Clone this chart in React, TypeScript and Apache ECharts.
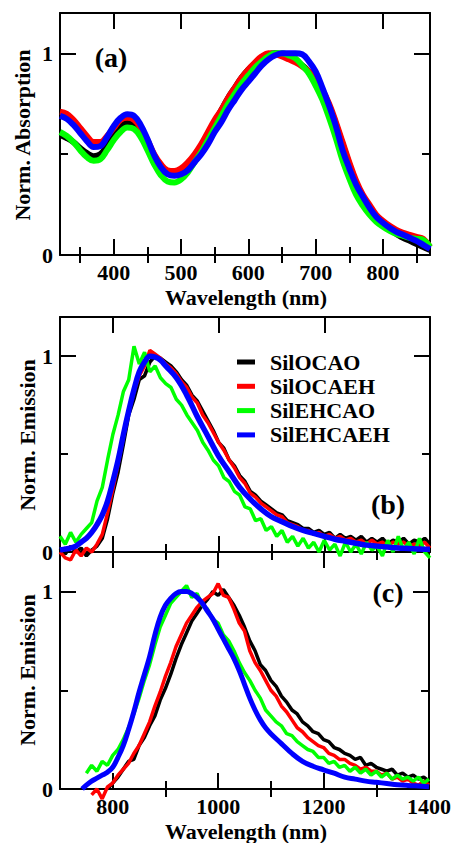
import React, { useEffect, useRef } from "react";
import * as echarts from "echarts";

const seriesNames = ["SilOCAO", "SilOCAEH", "SilEHCAO", "SilEHCAEH"];
const seriesColors = ["#000000", "#ff0000", "#00ff00", "#0000ff"];

// ---- Panel (a): absorption ----
const absWl = [320, 330, 340, 350, 360, 370, 380, 390, 400, 410, 420, 430, 440, 450, 460, 470, 480, 490, 500, 510, 520, 530, 540, 550, 560, 570, 580, 590, 600, 610, 620, 630, 640, 650, 660, 670, 680, 690, 700, 710, 720, 730, 740, 750, 760, 770, 780, 790, 800, 810, 820, 830, 840, 850, 860, 870];
const absBlack = [0.595, 0.58, 0.56, 0.53, 0.505, 0.49, 0.5, 0.54, 0.59, 0.635, 0.657, 0.65, 0.61, 0.55, 0.48, 0.43, 0.405, 0.4, 0.41, 0.44, 0.49, 0.54, 0.6, 0.66, 0.72, 0.78, 0.83, 0.88, 0.92, 0.95, 0.98, 0.995, 1.0, 0.99, 0.975, 0.96, 0.94, 0.91, 0.87, 0.81, 0.74, 0.65, 0.55, 0.45, 0.36, 0.29, 0.23, 0.18, 0.15, 0.125, 0.105, 0.085, 0.07, 0.055, 0.04, 0.025];
const absRed = [0.71, 0.7, 0.67, 0.63, 0.59, 0.56, 0.56, 0.59, 0.63, 0.67, 0.68, 0.67, 0.63, 0.57, 0.5, 0.45, 0.42, 0.417, 0.43, 0.46, 0.5, 0.55, 0.61, 0.67, 0.72, 0.78, 0.83, 0.88, 0.92, 0.955, 0.985, 1.0, 0.995, 0.985, 0.97, 0.955, 0.935, 0.91, 0.87, 0.82, 0.75, 0.66, 0.56, 0.46, 0.37, 0.3, 0.25, 0.2, 0.17, 0.145, 0.125, 0.11, 0.1, 0.09, 0.08, 0.04];
const absGreen = [0.61, 0.59, 0.56, 0.52, 0.485, 0.467, 0.475, 0.52, 0.57, 0.61, 0.632, 0.625, 0.585, 0.52, 0.45, 0.395, 0.365, 0.36, 0.375, 0.41, 0.46, 0.51, 0.57, 0.63, 0.69, 0.75, 0.8, 0.85, 0.89, 0.93, 0.96, 0.985, 1.0, 1.0, 0.99, 0.975, 0.94, 0.9, 0.84, 0.77, 0.68, 0.58, 0.47, 0.38, 0.3, 0.245, 0.2, 0.165, 0.14, 0.12, 0.105, 0.095, 0.085, 0.08, 0.075, 0.04];
const absBlue = [0.69, 0.675, 0.645, 0.605, 0.565, 0.535, 0.54, 0.585, 0.64, 0.68, 0.698, 0.69, 0.645, 0.575, 0.495, 0.435, 0.4, 0.393, 0.4, 0.42, 0.46, 0.5, 0.55, 0.61, 0.66, 0.72, 0.77, 0.82, 0.86, 0.9, 0.94, 0.97, 0.99, 1.0, 1.0, 1.0, 0.995, 0.96, 0.91, 0.83, 0.74, 0.64, 0.52, 0.43, 0.35, 0.29, 0.235, 0.19, 0.16, 0.135, 0.115, 0.1, 0.085, 0.07, 0.05, 0.03];

// ---- Emission wavelength grid ----
const emWl = [700, 710, 720, 730, 740, 750, 760, 770, 780, 790, 800, 810, 820, 830, 840, 850, 860, 870, 880, 890, 900, 910, 920, 930, 940, 950, 960, 970, 980, 990, 1000, 1010, 1020, 1030, 1040, 1050, 1060, 1070, 1080, 1090, 1100, 1110, 1120, 1130, 1140, 1150, 1160, 1170, 1180, 1190, 1200, 1210, 1220, 1230, 1240, 1250, 1260, 1270, 1280, 1290, 1300, 1310, 1320, 1330, 1340, 1350, 1360, 1370, 1380, 1390, 1400];

// ---- Panel (b): emission ----
const emBBlack = [0.02, -0.01, 0.03, 0.0, 0.02, -0.02, 0.01, 0.03, 0.07, 0.17, 0.3, 0.41, 0.55, 0.7, 0.78, 0.88, 0.9, 0.97, 1.0, 0.99, 0.97, 0.95, 0.92, 0.88, 0.85, 0.8, 0.77, 0.72, 0.67, 0.62, 0.56, 0.53, 0.47, 0.44, 0.39, 0.36, 0.31, 0.29, 0.26, 0.24, 0.22, 0.2, 0.19, 0.16, 0.15, 0.14, 0.12, 0.12, 0.1, 0.11, 0.09, 0.1, 0.07, 0.09, 0.07, 0.08, 0.06, 0.08, 0.05, 0.07, 0.05, 0.07, 0.04, 0.06, 0.05, 0.07, 0.04, 0.06, 0.05, 0.07, 0.04];
const emBRed = [0.0, -0.03, -0.04, 0.01, -0.02, 0.02, 0.0, 0.04, 0.09, 0.2, 0.32, 0.45, 0.59, 0.72, 0.82, 0.9, 0.95, 1.03, 1.01, 0.99, 0.96, 0.94, 0.91, 0.87, 0.84, 0.79, 0.76, 0.7, 0.66, 0.61, 0.56, 0.52, 0.47, 0.43, 0.38, 0.35, 0.3, 0.28, 0.25, 0.23, 0.21, 0.19, 0.18, 0.15, 0.14, 0.13, 0.11, 0.11, 0.09, 0.1, 0.08, 0.09, 0.07, 0.08, 0.06, 0.07, 0.05, 0.06, 0.04, 0.06, 0.04, 0.05, 0.03, 0.05, 0.04, 0.05, 0.03, 0.04, 0.03, 0.05, 0.02];
const emBGreen = [0.08, 0.04, 0.1, 0.05, 0.09, 0.12, 0.15, 0.26, 0.33, 0.47, 0.6, 0.7, 0.82, 0.88, 1.05, 0.96, 1.02, 0.92, 0.95, 0.89, 0.86, 0.84, 0.78, 0.75, 0.7, 0.66, 0.62, 0.56, 0.52, 0.47, 0.44, 0.38, 0.36, 0.31, 0.29, 0.23, 0.22, 0.16, 0.17, 0.11, 0.13, 0.08, 0.11, 0.05, 0.08, 0.03, 0.07, 0.02, 0.05, 0.0, 0.06, 0.01, 0.04, -0.02, 0.05, 0.0, 0.04, -0.01, 0.05, 0.01, 0.03, -0.02, 0.06, 0.0, 0.08, 0.01, 0.05, -0.01, 0.07, 0.0, -0.03];
const emBBlueWl = [700, 710, 720, 730, 740, 750, 760, 770, 780, 790, 800, 810, 820, 830, 840, 850, 860, 870, 880, 890, 900, 920, 940, 960, 980, 1000, 1020, 1040, 1060, 1080, 1100, 1120, 1140, 1160, 1180, 1200, 1220, 1240, 1260, 1280, 1300, 1320, 1340, 1360, 1380, 1400];
const emBBlue = [0.01, 0.015, 0.02, 0.03, 0.05, 0.07, 0.1, 0.14, 0.19, 0.26, 0.36, 0.47, 0.6, 0.72, 0.83, 0.92, 0.97, 1.0, 0.995, 0.98, 0.95, 0.89, 0.8, 0.69, 0.59, 0.49, 0.41, 0.33, 0.27, 0.22, 0.18, 0.155, 0.13, 0.11, 0.095, 0.08, 0.065, 0.055, 0.045, 0.035, 0.03, 0.025, 0.02, 0.018, 0.015, 0.014];

// ---- Panel (c): emission ----
const emCBlack = [0.0, 0.03, 0.06, 0.1, 0.14, 0.15, 0.22, 0.26, 0.32, 0.37, 0.45, 0.51, 0.58, 0.66, 0.73, 0.79, 0.85, 0.89, 0.93, 0.96, 1.0, 0.98, 1.01, 0.97, 0.93, 0.88, 0.82, 0.75, 0.7, 0.63, 0.6, 0.55, 0.52, 0.47, 0.44, 0.4, 0.38, 0.34, 0.32, 0.29, 0.28, 0.25, 0.24, 0.21, 0.2, 0.18, 0.17, 0.15, 0.16, 0.12, 0.13, 0.11, 0.1, 0.09, 0.1, 0.07, 0.08, 0.06, 0.07, 0.05, 0.06, 0.04];
const emCRed = [-0.03, 0.0, -0.05, 0.01, 0.03, 0.07, 0.1, 0.13, 0.18, 0.22, 0.28, 0.34, 0.42, 0.49, 0.57, 0.64, 0.72, 0.78, 0.84, 0.88, 0.92, 0.95, 0.97, 0.99, 1.04, 0.98, 0.97, 0.91, 0.84, 0.8, 0.7, 0.64, 0.6, 0.55, 0.5, 0.47, 0.42, 0.39, 0.35, 0.31, 0.29, 0.26, 0.24, 0.22, 0.21, 0.18, 0.17, 0.15, 0.15, 0.13, 0.12, 0.1, 0.11, 0.09, 0.09, 0.07, 0.08, 0.05, 0.06, 0.04, 0.05, 0.03, 0.02, 0.04, 0.02];
const emCGreen = [0.08, 0.12, 0.09, 0.14, 0.12, 0.17, 0.2, 0.25, 0.31, 0.38, 0.46, 0.55, 0.63, 0.73, 0.82, 0.88, 0.94, 0.97, 1.0, 1.03, 0.97, 0.99, 0.93, 0.91, 0.86, 0.84, 0.78, 0.75, 0.7, 0.64, 0.59, 0.55, 0.5, 0.46, 0.4, 0.37, 0.34, 0.32, 0.28, 0.27, 0.24, 0.22, 0.2, 0.19, 0.16, 0.16, 0.13, 0.14, 0.11, 0.12, 0.09, 0.11, 0.08, 0.1, 0.07, 0.09, 0.06, 0.08, 0.05, 0.07, 0.05, 0.06, 0.04, 0.06, 0.03, 0.05];
const emCBlueWl = [742, 750, 760, 770, 780, 790, 800, 810, 820, 830, 840, 850, 860, 870, 880, 890, 900, 910, 920, 930, 940, 950, 960, 970, 980, 990, 1000, 1010, 1020, 1030, 1040, 1050, 1060, 1070, 1080, 1090, 1100, 1120, 1140, 1160, 1180, 1200, 1220, 1240, 1260, 1280, 1300, 1320, 1340, 1360, 1380, 1400];
const emCBlue = [0.0, 0.02, 0.04, 0.055, 0.07, 0.085, 0.11, 0.16, 0.22, 0.3, 0.39, 0.49, 0.58, 0.67, 0.78, 0.87, 0.93, 0.965, 0.99, 1.0, 1.0, 0.99, 0.97, 0.94, 0.9, 0.86, 0.81, 0.76, 0.71, 0.66, 0.6, 0.53, 0.46, 0.4, 0.35, 0.31, 0.28, 0.23, 0.18, 0.14, 0.115, 0.097, 0.08, 0.06, 0.05, 0.04, 0.034, 0.028, 0.022, 0.018, 0.015, 0.012];

// ---- Ticks ----
const absMajor = [400, 500, 600, 700, 800];
const absMinor = [350, 450, 550, 650, 750, 850];
const emMajor = [800, 1000, 1200, 1400];
const emMinor = [900, 1100, 1300];
const yMajor = [0, 1];
const yMinor = [0.5];

const FONT = "Liberation Serif";

function pairs(xs: number[], ys: number[]) {
  return ys.map((y, i) => [xs[i], y]);
}
function tail(xs: number[], ys: number[]) {
  return xs.slice(xs.length - ys.length);
}

const labelStyle = {
  color: "#000",
  fontFamily: FONT,
  fontWeight: "bold" as const,
  fontSize: 22,
};

function xAxesFor(gi: number, min: number, max: number, major: number[], minor: number[], labels: boolean) {
  const base = {
    type: "value",
    gridIndex: gi,
    min,
    max,
    splitLine: { show: false },
  };
  const line = { show: true, onZero: false, lineStyle: { color: "#000", width: 2 } };
  const tick = (vals: number[], len: number) => ({
    show: true,
    inside: true,
    length: len,
    customValues: vals,
    lineStyle: { color: "#000", width: 2 },
  });
  return [
    {
      ...base,
      position: "bottom",
      axisLine: line,
      axisTick: tick(major, 16),
      axisLabel: labels
        ? { show: true, customValues: major, margin: 6, ...labelStyle, formatter: (v: number) => String(v) }
        : { show: false },
    },
    { ...base, position: "bottom", axisLine: { show: false }, axisTick: tick(minor, 8), axisLabel: { show: false } },
    { ...base, position: "top", axisLine: line, axisTick: tick(major, 16), axisLabel: { show: false } },
    { ...base, position: "top", axisLine: { show: false }, axisTick: tick(minor, 8), axisLabel: { show: false } },
  ];
}

function yAxesFor(gi: number) {
  const base = {
    type: "value",
    gridIndex: gi,
    min: 0,
    max: 1.2,
    splitLine: { show: false },
  };
  const line = { show: true, onZero: false, lineStyle: { color: "#000", width: 2 } };
  const tick = (vals: number[], len: number) => ({
    show: true,
    inside: true,
    length: len,
    customValues: vals,
    lineStyle: { color: "#000", width: 2 },
  });
  return [
    {
      ...base,
      position: "left",
      axisLine: line,
      axisTick: tick(yMajor, 16),
      axisLabel: { show: true, customValues: yMajor, margin: 7, ...labelStyle, formatter: (v: number) => String(v) },
    },
    { ...base, position: "left", axisLine: { show: false }, axisTick: tick(yMinor, 8), axisLabel: { show: false } },
    { ...base, position: "right", axisLine: line, axisTick: tick(yMajor, 16), axisLabel: { show: false } },
    { ...base, position: "right", axisLine: { show: false }, axisTick: tick(yMinor, 8), axisLabel: { show: false } },
  ];
}

function lineSeries(idx: number, data: number[][], gi: number, width: number, smooth: boolean | number) {
  return {
    type: "line",
    name: seriesNames[idx],
    color: seriesColors[idx],
    data,
    xAxisIndex: gi * 4,
    yAxisIndex: gi * 4,
    showSymbol: false,
    symbol: "none",
    smooth,
    clip: false,
    silent: true,
    lineStyle: { color: seriesColors[idx], width },
    emphasis: { disabled: true },
  };
}

function titleText(text: string, x: number, y: number, rotate: boolean, size = 22) {
  return {
    type: "text",
    x,
    y,
    rotation: rotate ? Math.PI / 2 : 0,
    style: {
      text,
      fill: "#000",
      fontFamily: FONT,
      fontWeight: "bold",
      fontSize: size,
      textAlign: "center",
      textVerticalAlign: "middle",
    },
  };
}

export default function App() {
  const ref = useRef<HTMLDivElement>(null);
  useEffect(() => {
    if (!ref.current) return;
    const chart = echarts.init(ref.current, null, { renderer: "svg" });
    const option = {
      animation: false,
      backgroundColor: "#ffffff",
      textStyle: { fontFamily: FONT },
      grid: [
        { left: 60, right: 24, top: 13, height: 242 },
        { left: 60, right: 24, top: 317, height: 235 },
        { left: 60, right: 24, top: 552, height: 237 },
      ],
      xAxis: [
        ...xAxesFor(0, 320, 870, absMajor, absMinor, true),
        ...xAxesFor(1, 700, 1400, emMajor, emMinor, false),
        ...xAxesFor(2, 700, 1400, emMajor, emMinor, true),
      ],
      yAxis: [...yAxesFor(0), ...yAxesFor(1), ...yAxesFor(2)],
      legend: {
        data: seriesNames,
        orient: "vertical",
        left: 237,
        top: 351,
        padding: 0,
        itemGap: 2.3,
        itemWidth: 18,
        itemHeight: 5,
        icon: "rect",
        selectedMode: false,
        textStyle: { ...labelStyle, lineHeight: 22, padding: [0, 0, 0, 10] },
      },
      series: [
        lineSeries(0, pairs(absWl, absBlack), 0, 6, 0.4),
        lineSeries(1, pairs(absWl, absRed), 0, 6, 0.4),
        lineSeries(2, pairs(absWl, absGreen), 0, 6, 0.4),
        lineSeries(3, pairs(absWl, absBlue), 0, 6, 0.4),
        lineSeries(0, pairs(emWl, emBBlack), 1, 3.5, false),
        lineSeries(1, pairs(emWl, emBRed), 1, 3.5, false),
        lineSeries(2, pairs(emWl, emBGreen), 1, 3.5, false),
        lineSeries(3, pairs(emBBlueWl, emBBlue), 1, 5.5, 0.4),
        lineSeries(0, pairs(tail(emWl, emCBlack), emCBlack), 2, 3.5, false),
        lineSeries(1, pairs(tail(emWl, emCRed), emCRed), 2, 3.5, false),
        lineSeries(2, pairs(tail(emWl, emCGreen), emCGreen), 2, 3.5, false),
        lineSeries(3, pairs(emCBlueWl, emCBlue), 2, 5, 0.4),
      ],
      graphic: [
        titleText("Wavelength (nm)", 246, 297, false),
        titleText("Wavelength (nm)", 246, 831, false),
        titleText("Norm. Absorption", 22, 135, true),
        titleText("Norm. Emission", 27, 435, true),
        titleText("Norm. Emission", 27, 670, true),
        titleText("(a)", 111, 57, false, 28),
        titleText("(b)", 388, 504, false, 28),
        titleText("(c)", 388, 592, false, 28),
      ],
    };
    chart.setOption(option as any);
    return () => chart.dispose();
  }, []);
  return (
    <div
      ref={ref}
      style={{ position: "fixed", left: 0, top: 0, width: 454, height: 843, background: "#fff" }}
    />
  );
}
